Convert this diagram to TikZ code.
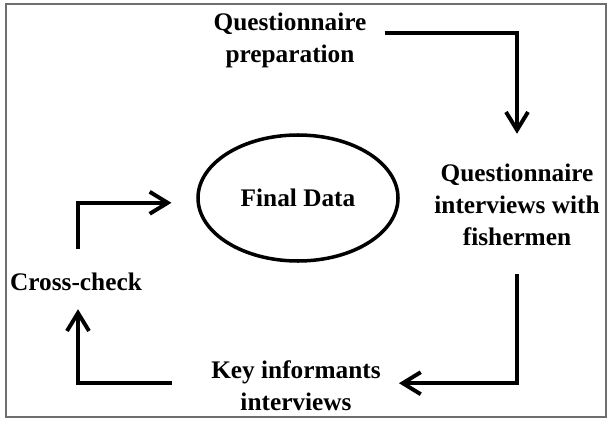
\documentclass[tikz,border=0pt]{standalone}
\usepackage{fontspec}
\setmainfont{Liberation Serif}
\usetikzlibrary{arrows.meta,shapes.geometric}
\definecolor{framegray}{RGB}{110,110,110}

\begin{document}
\begin{tikzpicture}[
        stagetext/.style={align=center, inner sep=0pt, font=\bfseries\fontsize{18}{22.8}\selectfont},
        flowarrow/.style={line width=2.8pt, -{Straight Barb[length=4.5mm, width=5.5mm]}}]
        \useasboundingbox (0,0) rectangle (15.25,10.5);
        % Frame
        \draw[framegray, line width=1.2pt] (0.15,0.075) rectangle (15.15,10.4);
        
        % Stages
        \node[stagetext] (prep) at (7.25,9.5) {Questionnaire\\preparation};
        \node[stagetext] (quest) at (12.925,5.375) {Questionnaire\\interviews with\\fishermen};
        \node[stagetext] (key) at (7.4,0.85) {Key informants\\interviews};
        \node[stagetext] (cross) at (1.9,3.45) {Cross-check};
        \node[stagetext, ellipse, draw, line width=2.5pt, minimum width=5cm, minimum height=3.15cm] (final) at (7.45,5.55) {Final Data};
        
        % Arrows
        \draw[flowarrow] ([xshift=0.45cm,yshift=0.17cm]prep.east) -| ([yshift=0.75cm]quest.north);
        \draw[flowarrow] ([yshift=-0.7cm]quest.south) |- ([xshift=0.45cm,yshift=0.07cm]key.east);
        \draw[flowarrow] ([xshift=-0.97cm,yshift=0.07cm]key.west) -| ([xshift=0.05cm,yshift=-0.45cm]cross.south);
        \draw[flowarrow] ([xshift=0.05cm,yshift=0.6cm]cross.north) |- ([xshift=-0.62cm,yshift=-0.12cm]final.west);
    \end{tikzpicture}
\end{document}
